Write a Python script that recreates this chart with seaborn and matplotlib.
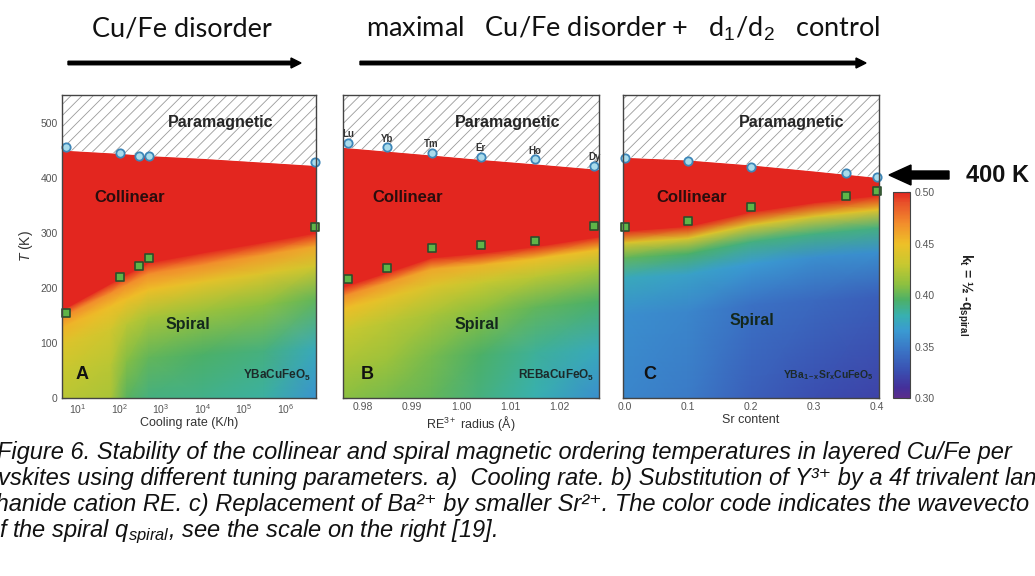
import numpy as np
import pandas as pd
import matplotlib
matplotlib.use("Agg")
import matplotlib.pyplot as plt
import seaborn as sns
from matplotlib.colors import LinearSegmentedColormap, Normalize
from matplotlib.patches import FancyArrow
from matplotlib.ticker import NullLocator, FixedLocator

# ---------------- data ----------------
# Panel A : cooling rate (K/h)
rate_A = [5, 100, 300, 500, 5e6]
TN_A = [456, 445, 440, 440, 428]          # paramagnetic -> collinear
TS_A = [155, 220, 240, 254, 310]          # collinear -> spiral
xb_A = [4.1, 60, 150, 500, 1e4, 3e5, 5.4e6]
TNb_A = [450, 445, 443, 440, 435, 428, 422]
TSb_A = [160, 208, 225, 246, 264, 283, 300]
s_A = [0, 0.3, 0.6, 0.8, 0.92, 1.0]
k_A = [[0.425, 0.42, 0.398, 0.39, 0.388, 0.383, 0.362],
       [0.43, 0.425, 0.408, 0.40, 0.395, 0.39, 0.375],
       [0.44, 0.435, 0.425, 0.42, 0.415, 0.41, 0.40],
       [0.455, 0.45, 0.45, 0.45, 0.445, 0.44, 0.435],
       [0.47, 0.47, 0.47, 0.47, 0.47, 0.465, 0.46],
       [0.50, 0.50, 0.50, 0.50, 0.50, 0.50, 0.50]]

# Panel B : RE3+ radius (A)
RE_labels = ["Lu", "Yb", "Tm", "Er", "Ho", "Dy"]
radius_B = [0.977, 0.985, 0.994, 1.004, 1.015, 1.027]
TN_B = [463, 455, 445, 438, 433, 422]
TS_B = [216, 236, 272, 277, 285, 313]
xb_B = [0.976, 0.985, 0.994, 1.004, 1.015, 1.028]
TNb_B = [455, 448, 441, 433, 425, 415]
TSb_B = [202, 228, 255, 263, 275, 293]
s_B = [0, 0.3, 0.6, 0.8, 0.92, 1.0]
k_B = [[0.41, 0.405, 0.40, 0.39, 0.38, 0.36],
       [0.42, 0.415, 0.405, 0.395, 0.385, 0.375],
       [0.43, 0.425, 0.42, 0.41, 0.40, 0.395],
       [0.45, 0.445, 0.44, 0.43, 0.425, 0.42],
       [0.47, 0.465, 0.46, 0.455, 0.45, 0.45],
       [0.50, 0.50, 0.50, 0.50, 0.50, 0.50]]

# Panel C : Sr content
sr_C = [0.0, 0.1, 0.2, 0.35, 0.4]
TN_C = [435, 431, 420, 409, 402]
TS_C = [311, 322, 347, 367, 376]
xb_C = [-0.003, 0.1, 0.2, 0.3, 0.403]
TNb_C = [437, 432, 423, 412, 400]
TSb_C = [303, 312, 338, 355, 368]
s_C = [0, 0.5, 0.72, 0.84, 0.93, 1.0]
k_C = [[0.355, 0.35, 0.335, 0.325, 0.32],
       [0.36, 0.355, 0.345, 0.34, 0.335],
       [0.375, 0.37, 0.365, 0.36, 0.36],
       [0.40, 0.395, 0.39, 0.39, 0.39],
       [0.44, 0.44, 0.44, 0.44, 0.445],
       [0.50, 0.50, 0.50, 0.50, 0.50]]

cbar_ticks = [0.30, 0.35, 0.40, 0.45, 0.50]
xticks_A = [1e1, 1e2, 1e3, 1e4, 1e5, 1e6]
xticks_B = [0.98, 0.99, 1.00, 1.01, 1.02]
xticks_C = [0.0, 0.1, 0.2, 0.3, 0.4]
yticks = [0, 100, 200, 300, 400, 500]

# ---------------- style ----------------
sns.set_theme(style="ticks")
plt.rcParams["font.family"] = ["Liberation Sans", "DejaVu Sans"]
plt.rcParams["mathtext.fontset"] = "custom"
plt.rcParams["mathtext.rm"] = "Liberation Sans"
plt.rcParams["mathtext.it"] = "Liberation Sans:italic"
plt.rcParams["mathtext.bf"] = "Liberation Sans:bold"
plt.rcParams["hatch.linewidth"] = 0.6
plt.rcParams["hatch.color"] = "#9a9a9a"

RED = "#e3261f"
cmap = LinearSegmentedColormap.from_list("kt", [
    (0.00, "#5b2c8c"), (0.05, "#44309a"), (0.125, "#3a4eb0"),
    (0.225, "#3a72c4"), (0.325, "#3a9ad2"), (0.40, "#38b0b0"),
    (0.475, "#4cb068"), (0.55, "#8cc040"), (0.65, "#c8c830"),
    (0.75, "#eec028"), (0.85, "#f28c2c"), (0.95, "#e8502a"),
    (1.00, RED)])
norm = Normalize(0.30, 0.50)

W, H = 1035, 576
fig = plt.figure(figsize=(W / 100, H / 100), dpi=100)


def px_axes(l, r, t, b):
    return fig.add_axes([l / W, 1 - b / H, (r - l) / W, (b - t) / H])


axA = px_axes(62, 316, 95, 398)
axB = px_axes(343, 599, 95, 398)
axC = px_axes(623, 879, 95, 398)
cax = px_axes(893, 910, 192, 398)


def draw_regions(ax, xb, TNb, TSb, s, k):
    X = np.tile(np.asarray(xb, float), (len(s), 1))
    Y = np.outer(s, TSb)
    ax.pcolormesh(X, Y, np.asarray(k), cmap=cmap, norm=norm,
                  shading="gouraud", zorder=1)
    ax.fill_between(xb, TSb, TNb, color=RED, lw=0, zorder=1.2)
    ax.fill_between(xb, TNb, 560, facecolor="white", hatch="///",
                    edgecolor="#9a9a9a", lw=0, zorder=1.2)


def draw_points(ax, x, tn, ts):
    df_n = pd.DataFrame({"x": x, "T": tn})
    df_s = pd.DataFrame({"x": x, "T": ts})
    sns.scatterplot(data=df_n, x="x", y="T", ax=ax, marker="o", s=36,
                    color="#a9dcec", edgecolor="#3d86b8", linewidth=1.3,
                    zorder=6, clip_on=False)
    sns.scatterplot(data=df_s, x="x", y="T", ax=ax, marker="s", s=26,
                    color="#5fb548", edgecolor="#2c4f2c", linewidth=1.2,
                    zorder=6, clip_on=False)


draw_regions(axA, xb_A, TNb_A, TSb_A, s_A, k_A)
draw_points(axA, rate_A, TN_A, TS_A)
axA.set_xscale("log")
axA.set_xlim(4.1, 5.4e6)
axA.xaxis.set_major_locator(FixedLocator(xticks_A))
axA.xaxis.set_minor_locator(NullLocator())

draw_regions(axB, xb_B, TNb_B, TSb_B, s_B, k_B)
draw_points(axB, radius_B, TN_B, TS_B)
axB.set_xlim(0.976, 1.028)
axB.set_xticks(xticks_B)
axB.set_xticklabels([f"{v:.2f}" for v in xticks_B])
for lab, xv, tv in zip(RE_labels, radius_B, TN_B):
    axB.text(xv, tv + 16, lab, ha="center", va="center", fontsize=7,
             fontweight="bold", color="#333333", zorder=7)

draw_regions(axC, xb_C, TNb_C, TSb_C, s_C, k_C)
draw_points(axC, sr_C, TN_C, TS_C)
axC.set_xlim(-0.003, 0.403)
axC.set_xticks(xticks_C)
axC.set_xticklabels([f"{v:.1f}" for v in xticks_C])

xlabels = ["Cooling rate (K/h)", r"RE$^{3+}$ radius (Å)", "Sr content"]
for ax, xl in zip([axA, axB, axC], xlabels):
    ax.set_ylim(0, 550)
    ax.set_yticks(yticks)
    ax.set_xlabel(xl, fontsize=9, color="#333333", labelpad=1)
    ax.set_ylabel("")
    ax.tick_params(direction="in", top=True, right=True, length=3,
                   width=0.8, color="#333333", labelcolor="#555555",
                   labelsize=7.5, pad=3)
    for sp in ax.spines.values():
        sp.set_color("#444444")
        sp.set_linewidth(1.0)
        sp.set_zorder(8)
axB.set_yticklabels([])
axC.set_yticklabels([])
axA.set_ylabel(r"$\mathit{T}$ (K)", fontsize=10, color="#333333", labelpad=4)

# region labels
tkw = dict(fontweight="bold", ha="center", va="center", zorder=9)
for ax, (px_, cx_, sx_, sy_, lx_, lab, formula) in zip(
        [axA, axB, axC],
        [(0.626, 0.268, 0.496, 0.241, 0.079, "A", r"YBaCuFeO$_\mathbf{5}$"),
         (0.645, 0.254, 0.523, 0.241, 0.094, "B", r"REBaCuFeO$_\mathbf{5}$"),
         (0.660, 0.270, 0.504, 0.257, 0.105, "C",
          r"YBa$_\mathbf{1-x}$Sr$_\mathbf{x}$CuFeO$_\mathbf{5}$")]):
    ax.text(px_, 0.908, "Paramagnetic", transform=ax.transAxes,
            fontsize=11.5, color="#262626", **tkw)
    ax.text(cx_, 0.663, "Collinear", transform=ax.transAxes,
            fontsize=12, color="#2a0d0d", **tkw)
    ax.text(sx_, sy_, "Spiral", transform=ax.transAxes,
            fontsize=11.5, color="#14281c", **tkw)
    ax.text(lx_, 0.076, lab, transform=ax.transAxes,
            fontsize=13, color="#111111", **tkw)
    ax.text(0.98, 0.076, formula, transform=ax.transAxes,
            fontsize=8.5 if lab != "C" else 7.5, color="#1c2a2a",
            fontweight="bold", ha="right", va="center", zorder=9)

# colorbar
sm = plt.cm.ScalarMappable(norm=norm, cmap=cmap)
cb = fig.colorbar(sm, cax=cax, ticks=cbar_ticks)
cb.ax.set_yticklabels([f"{v:.2f}" for v in cbar_ticks])
cb.ax.tick_params(direction="in", length=3, width=0.8, color="#333333",
                  labelcolor="#555555", labelsize=7.5, pad=3)
cb.outline.set_edgecolor("#444444")
cb.outline.set_linewidth(0.8)
fig.text(965 / W, 1 - 295 / H, r"k$_\mathbf{t}$ = ½ -q$_\mathbf{spiral}$",
         rotation=270, ha="center", va="center", fontsize=10,
         fontweight="bold", color="#222222")

# 400 K arrow
fig.add_artist(FancyArrow(9.49, (H - 175) / 100, -0.60, 0, width=0.08,
                          head_width=0.2, head_length=0.22,
                          length_includes_head=True, color="black",
                          transform=fig.dpi_scale_trans))
fig.text(998 / W, 1 - 175 / H, "400 K", ha="center", va="center",
         fontsize=17, fontweight="bold", color="#111111")

# header
hfont = ["Lato", "DejaVu Sans"]
fig.text(182 / W, 1 - 29 / H, "Cu/Fe disorder", ha="center", va="center",
         fontsize=19.5, family=hfont, color="#111111")
fig.text(623 / W, 1 - 29 / H,
         r"maximal   Cu/Fe disorder +   d$_1$/d$_2$   control", ha="center",
         va="center", fontsize=19.5, family=hfont, color="#111111")
for x0, x1 in [(68, 301), (360, 866)]:
    fig.add_artist(FancyArrow(x0 / 100, (H - 63) / 100, (x1 - x0) / 100, 0,
                              width=0.035, head_width=0.1, head_length=0.1,
                              length_includes_head=True, color="black",
                              transform=fig.dpi_scale_trans))

# caption
cap = [
    "Figure 6. Stability of the collinear and spiral magnetic ordering temperatures in layered Cu/Fe per",
    "ovskites using different tuning parameters. a)  Cooling rate. b) Substitution of Y³⁺ by a 4f trivalent lan",
    "thanide cation RE. c) Replacement of Ba²⁺ by smaller Sr²⁺. The color code indicates the wavevecto",
    r"of the spiral q$_{\mathit{spiral}}$, see the scale on the right [19].",
]
cap_x = [-3, -15, -11, -14]
for i, (line, x0) in enumerate(zip(cap, cap_x)):
    fig.text(x0 / W, 1 - (452 + 26.5 * i) / H, line, ha="left",
             va="center", fontsize=17.0, style="italic", color="#111111",
             family=["Liberation Sans", "DejaVu Sans"])

fig.savefig("out.png", dpi=100)
